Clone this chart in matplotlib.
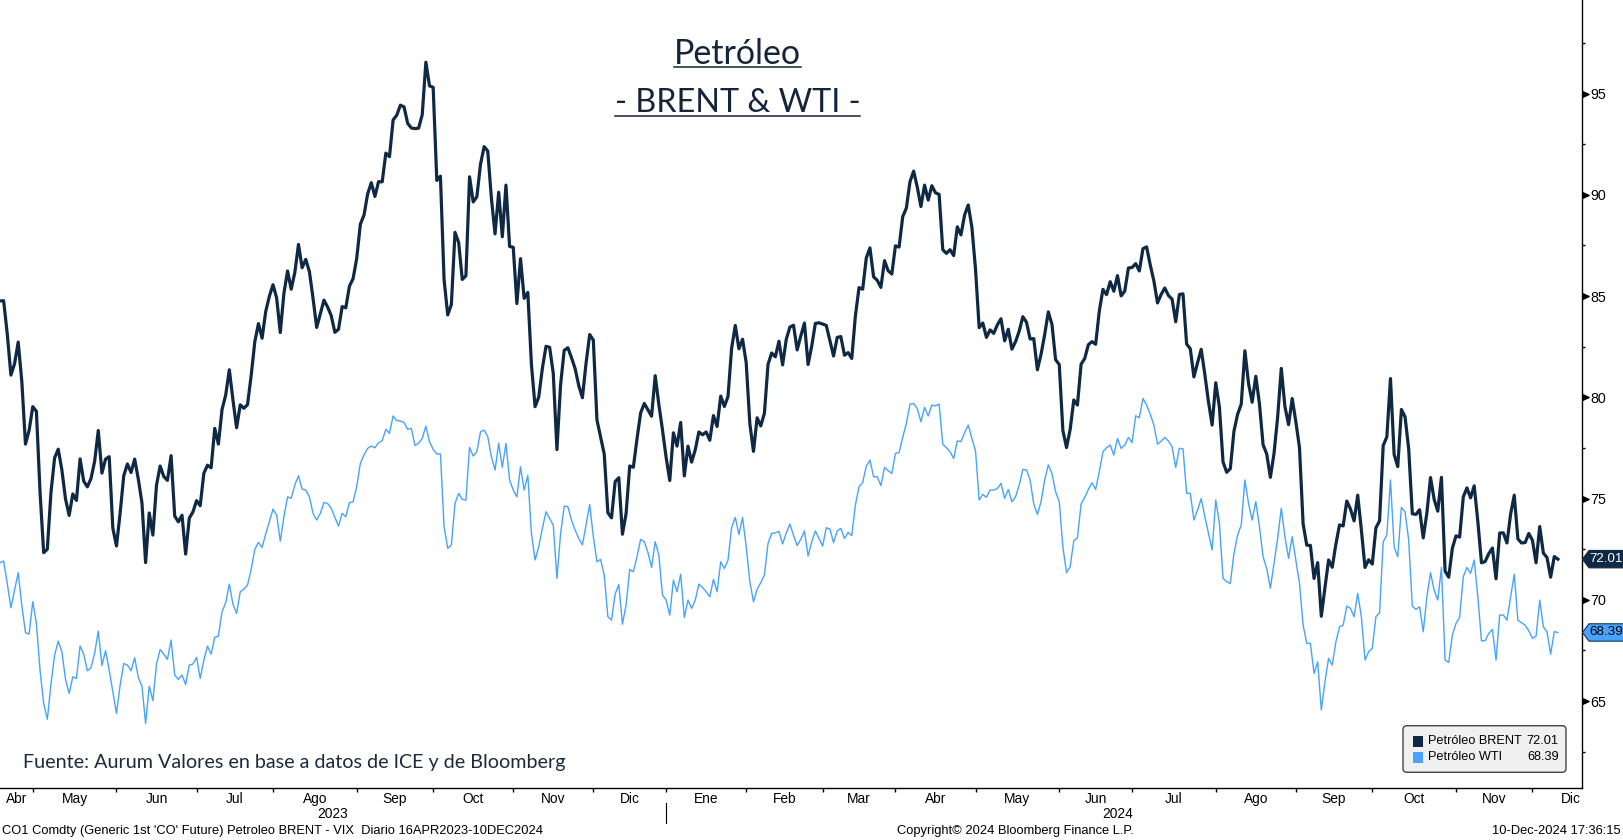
import numpy as np
import pandas as pd
import matplotlib
matplotlib.use("Agg")
import matplotlib.pyplot as plt
from matplotlib.patches import Polygon, FancyBboxPatch, Rectangle
from matplotlib.lines import Line2D
from matplotlib.transforms import blended_transform_factory

plt.rcParams['font.family'] = ['Liberation Sans', 'DejaVu Sans']

# ---------------- data ----------------
start_date = '2023-04-17'
end_date = '2024-12-10'
market_holidays = ['2023-12-25', '2024-01-01', '2024-03-29']

brent_2023 = [
    84.76, 84.77, 83.12, 81.10, 81.66, 82.73, 80.77, 77.69, 78.37, 79.54,
    79.31, 75.32, 72.33, 72.50, 75.30, 77.01, 77.44, 76.41, 74.98, 74.17, 75.23, 74.91, 76.96,
    75.86, 75.58, 75.99, 76.84, 78.36, 76.26, 76.95, 77.07, 73.54, 72.66,
    74.28, 76.13, 76.71, 76.29, 76.95, 75.96, 74.79, 71.84, 74.29, 73.20, 75.67, 76.61, 76.09,
    75.90, 77.12, 74.14, 73.85, 74.18, 72.26, 74.03, 74.34, 74.90,
    74.65, 76.25, 76.65, 76.52, 78.47, 77.69, 79.40, 80.11, 81.36, 79.87, 78.50, 79.63, 79.46,
    79.64, 81.07, 82.74, 83.64, 82.92, 84.24, 84.99, 85.56,
    84.91, 83.20, 85.14, 86.24, 85.34, 86.17, 87.55, 86.40, 86.81, 86.21, 84.89, 83.45, 84.12,
    84.80, 84.46, 84.03, 83.21, 83.36, 84.48, 84.42, 85.49, 85.86, 86.86,
    88.55, 89.00, 90.04, 90.60, 89.92, 90.65, 90.64, 92.06, 91.88, 93.70, 93.93, 94.43, 94.34,
    93.53, 93.30, 93.27, 93.29, 93.96, 96.55, 95.38, 95.31,
    90.71, 90.92, 85.81, 84.07, 84.58, 88.15, 87.65, 85.82, 86.00, 90.89, 89.65, 89.90, 91.50,
    92.38, 92.16, 89.83, 88.07, 90.13, 87.93, 90.48, 87.45, 87.41,
    84.63, 86.85, 84.89, 85.18, 81.61, 79.54, 80.01, 81.43, 82.52, 82.47, 81.18, 77.42, 80.61,
    82.32, 82.45, 81.96, 81.42, 80.58, 79.98, 81.68, 83.10, 82.83,
    78.88, 78.03, 77.20, 74.30, 74.05, 75.84, 76.03, 73.24, 74.26, 76.61, 76.55, 77.95, 79.23,
    79.70, 79.39, 79.07, 81.07, 79.65, 78.39, 77.04,
]
brent_2024 = [
    75.89, 78.25, 77.59, 78.76, 76.12, 77.59, 76.80, 77.41, 78.29, 78.15, 78.29, 77.88, 79.10,
    78.56, 80.06, 79.55, 80.04, 82.43, 83.55, 82.40, 82.87, 81.71,
    78.70, 77.33, 78.99, 78.59, 79.21, 81.63, 82.19, 82.00, 82.77, 81.60, 82.86, 83.47, 83.56,
    82.34, 83.03, 83.67, 81.62, 82.53, 83.65, 83.68, 83.62,
    83.55, 82.80, 82.04, 82.96, 83.00, 82.08, 82.21, 81.92, 84.03, 85.42, 85.34, 86.89, 87.38,
    85.95, 85.78, 85.43, 86.75, 86.25, 86.09, 87.48,
    87.42, 88.92, 89.35, 90.65, 91.17, 90.38, 89.42, 90.48, 89.74, 90.45, 90.10, 90.02, 87.29,
    87.11, 87.29, 87.00, 88.42, 88.02, 89.01, 89.50, 88.40, 86.33,
    83.44, 83.67, 82.96, 83.33, 83.16, 83.58, 83.88, 82.79, 83.36, 82.38, 82.75, 83.27, 83.98,
    83.71, 82.88, 82.90, 81.36, 82.12, 83.10, 84.22, 83.60, 81.86, 81.62,
    78.36, 77.52, 78.41, 79.87, 79.62, 81.63, 81.92, 82.60, 82.75, 82.62, 84.25, 85.33, 85.07,
    85.71, 85.24, 86.01, 85.01, 85.25, 86.39, 86.41,
    86.60, 86.24, 87.34, 87.43, 86.54, 85.75, 84.66, 85.08, 85.40, 85.03, 84.85, 83.73, 85.08,
    85.11, 82.63, 82.40, 81.01, 81.71, 82.37, 81.13, 79.78, 78.63, 80.72,
    79.52, 76.81, 76.30, 76.48, 78.33, 79.16, 79.66, 82.30, 80.69, 79.76, 81.04, 79.68, 77.66,
    77.20, 76.05, 77.22, 79.02, 81.43, 79.55, 78.65, 79.94, 78.80,
    77.52, 73.75, 72.70, 72.69, 71.06, 71.84, 69.19, 70.61, 71.97, 71.61, 72.75, 73.70, 73.65,
    74.88, 74.49, 73.90, 75.17, 73.46, 71.60, 71.98, 71.77,
    73.56, 73.90, 77.62, 78.05, 80.93, 77.18, 76.58, 79.40, 79.04, 77.46, 74.25, 74.22, 74.45,
    73.06, 74.29, 76.04, 74.96, 74.38, 76.05, 71.42, 71.12, 72.55, 73.16,
    73.10, 75.08, 75.53, 75.04, 75.63, 73.87, 71.83, 71.89, 72.28, 72.56, 71.04, 73.30, 73.31,
    72.81, 74.23, 75.17, 73.01, 72.81, 72.83, 73.28, 72.94,
    71.83, 73.62, 72.31, 72.09, 71.12, 72.14, 72.01,
]

wti_2023 = [
    71.83, 71.92, 70.81, 69.61, 70.48, 71.34, 69.73, 68.38, 68.31, 69.91,
    68.84, 66.53, 64.89, 64.10, 65.84, 67.27, 67.97, 67.44, 66.07, 65.38,
    66.20, 66.12, 67.72, 67.32, 66.50, 66.65, 67.36, 68.46, 66.76, 67.49,
    66.53, 65.46, 64.39,
    65.79, 66.86, 66.78, 66.50, 67.14, 66.17, 65.74, 63.90, 65.74, 65.02,
    66.83, 67.55, 67.32, 67.06, 68.02, 66.29, 66.07, 66.29, 65.82, 66.78,
    66.83, 67.16,
    66.12, 67.03, 67.72, 67.32, 68.15, 68.21, 69.41, 69.86, 70.78, 69.79,
    69.33, 70.40, 70.52, 70.73, 71.50, 72.49, 72.84, 72.59, 73.25, 73.86,
    74.48,
    74.19, 72.90, 74.10, 75.09, 75.01, 75.67, 76.13, 75.47, 75.42, 75.09,
    74.27, 73.94, 74.27, 74.81, 74.76, 74.52, 74.07, 73.64, 74.27, 74.10,
    74.80, 74.85, 75.59,
    76.74, 77.15, 77.48, 77.59, 77.51, 77.76, 77.86, 78.42, 78.22, 79.08,
    78.85, 78.83, 78.76, 78.42, 78.47, 77.62, 77.74, 77.97, 78.58, 77.81,
    77.43,
    77.20, 77.20, 73.61, 72.54, 72.71, 74.76, 75.26, 74.96, 74.93, 77.53,
    77.10, 77.31, 78.30, 78.38, 78.06, 77.07, 76.41, 77.73, 76.54, 77.73,
    75.92, 75.42,
    75.09, 76.57, 75.42, 76.15, 73.28, 71.97, 72.62, 73.53, 74.35, 74.02,
    73.69, 71.06, 73.25, 74.63, 74.60, 73.94, 73.45, 73.03, 72.71, 73.69,
    74.71, 73.12,
    71.88, 72.00, 71.22, 69.17, 69.00, 70.29, 70.76, 68.80, 69.74, 71.50,
    71.39, 72.13, 72.99, 72.87, 72.34, 71.60, 72.87, 72.21, 70.24, 69.99,
]
wti_2024 = [
    69.25, 70.98, 70.40, 71.27, 69.13, 69.99, 69.58, 69.99, 70.78, 70.61,
    70.40, 70.15, 71.01, 70.40, 71.88, 71.55, 71.96, 73.58, 74.07, 73.23,
    74.06, 72.62, 70.89, 69.91, 70.52, 70.85, 71.22, 72.79, 73.28, 73.31,
    73.38, 72.76, 73.30, 73.74, 73.19, 72.68, 72.99, 73.40, 72.16, 72.87,
    73.40, 73.03, 72.66, 73.56, 73.50, 72.82, 73.40, 73.53, 73.03, 73.33,
    73.17, 74.68, 75.59, 75.79, 76.61, 76.90, 76.08, 76.08, 75.64, 76.54,
    76.38, 76.24, 77.23, 77.27, 78.02, 78.71, 79.67, 79.69, 79.45, 78.80,
    79.50, 79.08, 79.62, 79.57, 79.67, 77.69, 77.51, 77.31, 76.98, 77.85,
    77.81, 78.25, 78.63, 77.97, 77.36, 74.93, 75.21, 75.06, 75.42, 75.42,
    75.50, 75.75, 75.01, 75.45, 74.85, 75.09, 75.67, 76.44, 76.41, 75.92,
    74.73, 74.22, 74.85, 75.92, 76.66, 76.24, 75.34, 74.85, 72.62, 71.34,
    71.64, 72.92, 73.07, 74.73, 75.06, 75.45, 75.78, 75.45, 76.33, 77.31,
    77.51, 77.64, 77.15, 77.97, 77.48, 77.64, 78.02, 77.76, 79.09, 78.99,
    79.95, 79.62, 79.17, 78.63, 77.69, 77.84, 78.02, 77.84, 77.56, 76.54,
    77.48, 77.46, 75.26, 75.26, 73.94, 74.43, 75.00, 74.11, 73.28, 72.46,
    74.93, 73.78, 71.06, 70.90, 70.81, 72.29, 73.20, 73.69, 75.92, 74.76,
    73.94, 74.85, 73.61, 72.13, 71.55, 70.57, 71.80, 73.03, 74.52, 73.12,
    72.05, 73.12, 71.97, 70.81, 68.75, 67.85, 67.85, 66.37, 66.94, 64.56,
    65.96, 67.11, 66.78, 67.93, 68.67, 68.75, 69.69, 69.58, 69.17, 70.32,
    69.17, 67.03, 67.44, 67.60, 69.17, 69.36, 72.87, 73.20, 75.92, 72.62,
    72.13, 74.57, 74.35, 72.95, 69.69, 69.53, 69.66, 68.42, 70.15, 71.34,
    70.48, 69.99, 71.60, 67.03, 66.91, 68.26, 68.84, 69.13, 71.14, 71.60,
    71.31, 71.97, 70.15, 67.98, 67.98, 68.34, 68.54, 67.03, 69.25, 69.25,
    69.00, 70.15, 71.27, 69.00, 68.87, 68.75, 68.47, 68.10, 68.21, 69.99,
    68.67, 68.43, 67.32, 68.43, 68.39,
]

series_names = ['Petróleo BRENT', 'Petróleo WTI']
meses = ['Ene', 'Feb', 'Mar', 'Abr', 'May', 'Jun', 'Jul', 'Ago', 'Sep', 'Oct', 'Nov', 'Dic']
y_major = [65, 70, 75, 80, 85, 90, 95]
y_minor = [62.5, 67.5, 72.5, 77.5, 82.5, 87.5, 92.5, 97.5]

title_1 = 'Petróleo'
title_2 = '- BRENT & WTI -'
source_text = 'Fuente: Aurum Valores en base a datos de ICE y de Bloomberg'
footer_left = "CO1 Comdty (Generic 1st 'CO' Future) Petroleo BRENT - VIX  Diario 16APR2023-10DEC2024"
footer_mid = 'Copyright© 2024 Bloomberg Finance L.P.'
footer_right = '10-Dec-2024 17:36:15'

# ---------------- build ----------------
dates = pd.bdate_range(start_date, end_date)
dates = dates[~dates.isin(pd.to_datetime(market_holidays))]
brent = np.array(brent_2023 + brent_2024)
wti = np.array(wti_2023 + wti_2024)
n = min(len(dates), len(brent), len(wti))
dates = dates[:n]
brent = brent[:n]
wti = wti[:n]
x = np.arange(n)

W, H = 1624, 840
fig = plt.figure(figsize=(W / 100, H / 100), dpi=100, facecolor='white')
AX_RIGHT_PX, AX_BOTTOM_PX = 1582, 788
ax = fig.add_axes([0, 1 - AX_BOTTOM_PX / H, AX_RIGHT_PX / W, AX_BOTTOM_PX / H])

NAVY = '#0f2944'
LIGHT = '#47a3ff'
AXFS = 9.9

ax.plot(x, wti, color=LIGHT, lw=1.0, zorder=2)
ax.plot(x, brent, color=NAVY, lw=2.3, zorder=3, solid_joinstyle='round')

x_right = AX_RIGHT_PX / 3.64
ax.set_xlim(0, x_right)
ax.set_ylim(60.71, 99.62)

for s in ['left', 'top']:
    ax.spines[s].set_visible(False)
ax.spines['right'].set_linewidth(1.0)
ax.spines['bottom'].set_linewidth(1.0)

# month boundaries
month_key = dates.year * 12 + dates.month
starts = [0] + [i for i in range(1, n) if month_key[i] != month_key[i - 1]]
bounds = [s - 1 for s in starts[1:]]
ax.set_xticks(bounds)
ax.tick_params(axis='x', which='major', direction='out', length=3, width=1,
               labelbottom=False, color='black')

trans_xfig = blended_transform_factory(ax.transData, fig.transFigure)
edges = [0] + bounds + [x_right]
typical_month = np.median(np.diff(bounds))
for k, s in enumerate(starts):
    if k == len(starts) - 1:
        cx = min(edges[k] + typical_month / 2, x_right - 3)
    else:
        cx = (edges[k] + edges[k + 1]) / 2
    ax.text(cx, 1 - 799 / H, meses[dates[s].month - 1], transform=trans_xfig,
            ha='center', va='center', fontsize=AXFS, color='black', clip_on=False)

# years
year_first = [i for i in range(n) if i == 0 or dates[i].year != dates[i - 1].year]
year_edges = [0] + [i - 1 for i in year_first[1:]] + [(n - 1 + x_right) / 2]
for k, s in enumerate(year_first):
    cx = (year_edges[k] + year_edges[k + 1]) / 2
    ax.text(cx, 1 - 814.5 / H, str(dates[s].year), transform=trans_xfig,
            ha='center', va='center', fontsize=AXFS, color='black', clip_on=False)
for i in year_first[1:]:
    ax.add_line(Line2D([i - 1, i - 1], [1 - 803 / H, 1 - 823 / H], transform=trans_xfig,
                       color='black', lw=0.8, clip_on=False))

# right axis
ax.yaxis.tick_right()
ax.set_yticks(y_major)
ax.set_yticklabels([str(v) for v in y_major])
ax.set_yticks(y_minor, minor=True)
ax.tick_params(axis='y', which='major', length=0, pad=6.0, labelsize=10.3)
ax.tick_params(axis='y', which='minor', direction='out', length=2.5, width=1)
tri = [(0, -3), (6.6, 0), (0, 3)]
trans_yax = blended_transform_factory(ax.transAxes, ax.transData)
ax.plot(np.ones(len(y_major)), y_major, linestyle='none', marker=tri, ms=9.5,
        color='black', transform=trans_yax, clip_on=False, zorder=5)

# value tags on right
ppu = AX_BOTTOM_PX / (99.62 - 60.71)
half = 8.7 / ppu
trans_tag = blended_transform_factory(fig.transFigure, ax.transData)


def value_tag(v, fc, tc, ec):
    verts = [(1582.5 / W, v), (1589 / W, v + half), (1.0, v + half),
             (1.0, v - half), (1589 / W, v - half)]
    ax.add_patch(Polygon(verts, closed=True, transform=trans_tag, facecolor=fc,
                         edgecolor=ec, lw=0.8, clip_on=False, zorder=6))
    ax.text(1623 / W, v, f'{v:.2f}', transform=trans_tag, ha='right', va='center',
            fontsize=9.6, color=tc, clip_on=False, zorder=7)


value_tag(brent[-1], NAVY, 'white', NAVY)
value_tag(wti[-1], LIGHT, 'black', '#1a3350')

# legend
inch = fig.dpi_scale_trans


def P(px, py):
    return px / 100, (H - py) / 100


lx0, ly0, lx1, ly1 = 1403, 725.7, 1566, 772.3
fig.add_artist(FancyBboxPatch(P(lx0, ly1), (lx1 - lx0) / 100, (ly1 - ly0) / 100,
                              boxstyle='round,pad=0,rounding_size=0.04', transform=inch,
                              facecolor='#f0f0f0', edgecolor='#444444', lw=1.0))
for k, (name, val, col) in enumerate(zip(series_names, [brent[-1], wti[-1]], [NAVY, LIGHT])):
    cy = 741.3 + k * 16
    fig.add_artist(Rectangle(P(1412.7, cy + 5.3), 10.6 / 100, 10.6 / 100, transform=inch,
                             facecolor=col, edgecolor='none'))
    fig.text(*P(1428.3, cy), name, transform=inch, ha='left', va='center', fontsize=9.2,
             color='black')
    fig.text(*P(1558.5, cy), f'{val:.2f}', transform=inch, ha='right', va='center',
             fontsize=9.2, color='black')

# titles
TITLE_COL = '#14253b'
t1 = fig.text(*P(737, 63.5), title_1, transform=inch, ha='center', va='baseline',
              fontsize=24.5, family=['Lato', 'DejaVu Sans'], color=TITLE_COL)
t2 = fig.text(*P(737.5, 112), title_2, transform=inch, ha='center', va='baseline',
              fontsize=23.3, family=['Lato', 'DejaVu Sans'], color=TITLE_COL)
fig.text(*P(22.7, 768), source_text, transform=inch, ha='left', va='baseline',
         fontsize=14.2, family=['Lato', 'DejaVu Sans'], color='#1b2b3c')

fig.canvas.draw()
r = fig.canvas.get_renderer()
for t, uy in [(t1, 67.3), (t2, 115.7)]:
    bb = t.get_window_extent(renderer=r)
    fig.add_artist(Line2D([bb.x0 / 100, bb.x1 / 100], [(H - uy) / 100] * 2, transform=inch,
                          color=TITLE_COL, lw=1.1))

# footer
fig.text(*P(2, 830.7), footer_left, transform=inch, ha='left', va='center', fontsize=9.3,
         color='black')
fig.text(*P(1015, 830.7), footer_mid, transform=inch, ha='center', va='center', fontsize=9.3,
         color='black')
fig.text(*P(1621, 830.7), footer_right, transform=inch, ha='right', va='center', fontsize=9.3,
         color='black')

fig.savefig('out.png', dpi=100, facecolor='white')
